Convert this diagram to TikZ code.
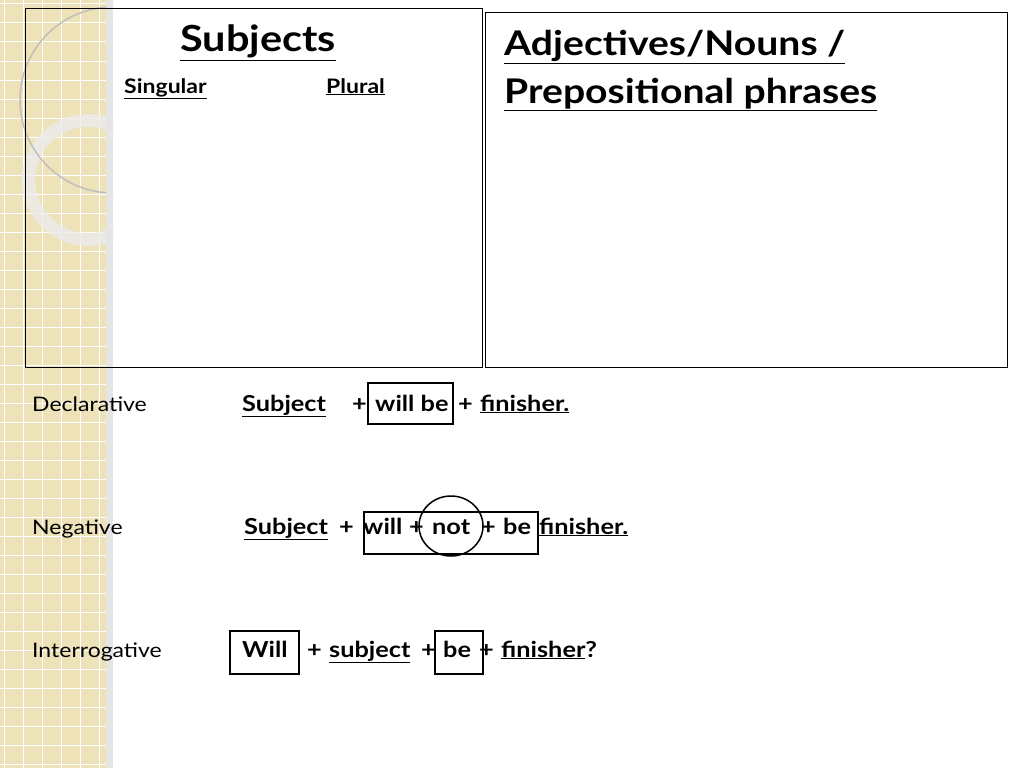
\documentclass[tikz,border=0pt]{standalone}
\usepackage{fontspec}
\setmainfont{Lato}[FakeStretch=1.15]
\definecolor{strip}{HTML}{EEE2B9}
\begin{document}
\begin{tikzpicture}[x=1pt, y=-1pt,
    W/.style={anchor=base west, inner sep=0pt, font=\bfseries\fontsize{22}{24}\selectfont},
    L/.style={anchor=base west, inner sep=0pt, font=\fontsize{20}{24}\selectfont},
    box/.style={draw, line width=1.5pt}
  ]
  \useasboundingbox (0,0) rectangle (1024,768);
  \fill[white] (0,0) rectangle (1024,768);
  % left strip
  \begin{scope}
    \clip (0,0) rectangle (113,768);
    \fill[strip] (0,0) rectangle (113,768);
    \foreach \i in {0,...,40}
      \draw[white, line width=1pt] (0,\i*19+4) -- (113,\i*19+4);
    \foreach \i in {0,...,5}
      \draw[white, line width=1pt] (\i*19+4,0) -- (\i*19+4,768);
    \fill[black!8, opacity=0.8, even odd rule] (88,180) circle (66) (88,180) circle (53);
    \draw[black!25, line width=1.5pt] (113,100) circle (93);
    \fill[black!10] (106,0) rectangle (113,768);
  \end{scope}
  % boxes at top
  \draw (25,8) rectangle (482,367);
  \draw (485,12) rectangle (1007,367);
  \node[anchor=base, inner sep=0pt, font=\bfseries\fontsize{36}{38}\selectfont] (subj) at (258,52) {\underline{Subjects}};
  \node[anchor=base west, inner sep=0pt, font=\bfseries\fontsize{20}{22}\selectfont] (sing) at (124,93) {\underline{Singular}};
  \node[anchor=base west, inner sep=0pt, font=\bfseries\fontsize{20}{22}\selectfont] (plur) at (326,93) {\underline{Plural}};
  \node[anchor=base west, inner sep=0pt, font=\bfseries\fontsize{34}{36}\selectfont] (adj) at (504,56) {\underline{Adjectives/Nouns /}};
  \node[anchor=base west, inner sep=0pt, font=\bfseries\fontsize{34}{36}\selectfont] (prep) at (504,103) {\underline{Prepositional phrases}};
  % declarative
  \node[L] (decl) at (32,411) {Declarative};
  \node[W] (d1) at (242,411) {\underline{Subject}};
  \node[W] (d2) at (352,411) {+};
  \node[W] (d3) at (375,411) {will be};
  \node[W] (d4) at (458,411) {+};
  \node[W] (d5) at (480,411) {\underline{finisher.}};
  \draw[box] (368,383) rectangle (453,424);
  % negative
  \node[L] (neg) at (32,534) {Negative};
  \node[W] (n1) at (244,534) {\underline{Subject}};
  \node[W] (n2) at (339,534) {+};
  \node[W] (n3) at (363,534) {will};
  \node[W] (n4) at (409,534) {+};
  \node[W] (n5) at (432,534) {not};
  \node[W] (n6) at (481,534) {+};
  \node[W] (n7) at (503,534) {be};
  \node[W] (n8) at (539,534) {\underline{finisher.}};
  \draw[box] (364,512) rectangle (538,554);
  \draw[line width=1.5pt] (451,526) ellipse (32 and 30);
  % interrogative
  \node[L] (intg) at (32,657) {Interrogative};
  \node[W] (i1) at (242,657) {Will};
  \node[W] (i2) at (307,657) {+};
  \node[W] (i3) at (329,657) {\underline{subject}};
  \node[W] (i4) at (421,657) {+};
  \node[W] (i5) at (443,657) {be};
  \node[W] (i6) at (479,657) {+};
  \node[W] (i7) at (501,657) {\underline{finisher}?};
  \draw[box] (230,631) rectangle (299,674);
  \draw[box] (435,631) rectangle (483,674);
\end{tikzpicture}
\end{document}
